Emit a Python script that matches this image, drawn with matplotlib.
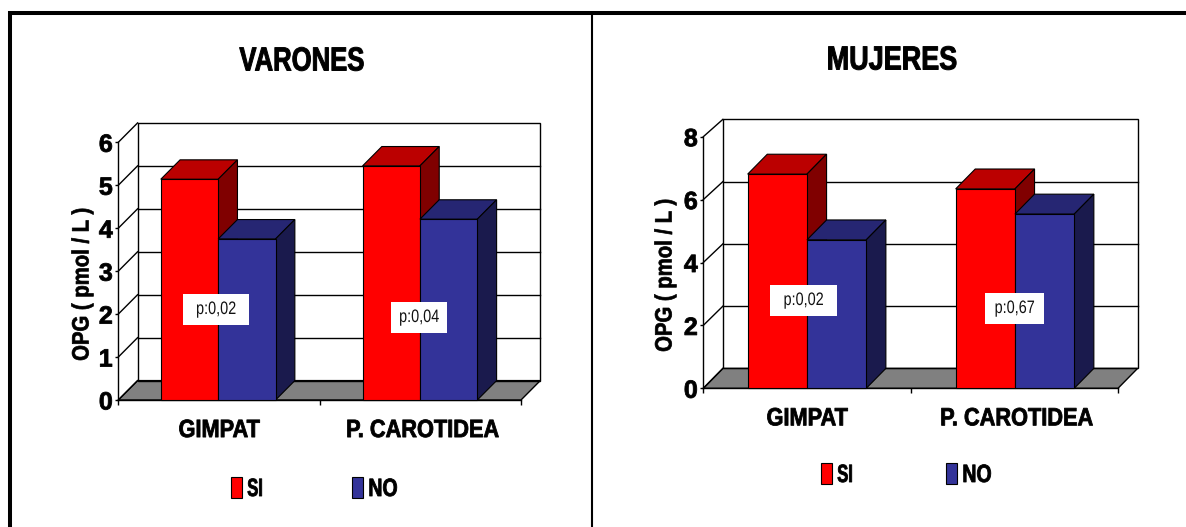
import matplotlib
matplotlib.use('Agg')
import matplotlib.pyplot as plt
from matplotlib.lines import Line2D
from matplotlib.patches import Polygon, Rectangle
from matplotlib.patheffects import AbstractPathEffect
from matplotlib.transforms import Affine2D

plt.rcParams['font.family'] = ['Liberation Sans', 'DejaVu Sans']

W, H = 1186, 527

categories = ['GIMPAT', 'P. CAROTIDEA']
series_names = ['SI', 'NO']

varones_si = [5.14, 5.45]
varones_no = [3.75, 4.21]
varones_ticks = [0, 1, 2, 3, 4, 5, 6]
varones_p = ['p:0,02', 'p:0,04']

mujeres_si = [6.81, 6.34]
mujeres_no = [4.72, 5.54]
mujeres_ticks = [0, 2, 4, 6, 8]
mujeres_p = ['p:0,02', 'p:0,67']

RED = ['#ff0000', '#bb0000', '#800000']
BLUE = ['#333399', '#262673', '#1a1a4d']
FLOOR = '#808080'


class Squeeze(AbstractPathEffect):
    # the original text is much tighter than Liberation, narrow it sideways
    # and thicken it a bit with an outline
    def __init__(self, sx=1.0, anchor=0.5, stroke=0.0):
        super().__init__()
        self.sx = sx
        self.anchor = anchor
        self.stroke = stroke

    def draw_path(self, renderer, gc, tpath, affine, rgbFace=None):
        ext = tpath.get_extents()
        x0 = ext.x0 + ext.width * self.anchor
        squeeze = Affine2D().translate(-x0, 0).scale(self.sx, 1).translate(x0, 0)
        if self.stroke:
            gc0 = renderer.new_gc()
            gc0.copy_properties(gc)
            gc0.set_linewidth(self.stroke)
            gc0.set_foreground(rgbFace)
            renderer.draw_path(gc0, tpath, squeeze + affine, rgbFace)
            gc0.restore()
        else:
            renderer.draw_path(gc, tpath, squeeze + affine, rgbFace)


def fx(x):
    return x / W


def fy(y):
    return 1 - y / H


def panel(left, right, y0, ytop, depth_x, depth_y, back_scale, si, no, ticks, p_text, p_boxes,
          bar_w, centers, title, title_xy, title_sx, ylabel_xy, leg_xy, leg_gap):
    ax = fig.add_axes([fx(left), fy(y0), fx(right - left), (y0 - ytop) / H])
    ymax = ticks[-1]
    ax.set_xlim(0, 2)
    ax.set_ylim(0, ymax)
    ax.patch.set_visible(False)
    for s in ['top', 'right']:
        ax.spines[s].set_visible(False)
    for s in ['left', 'bottom']:
        ax.spines[s].set_linewidth(1.0)

    dx = depth_x / (right - left) * 2
    dy = depth_y / (y0 - ytop) * ymax

    # floor and back wall
    ax.add_patch(Polygon([(0, 0), (2, 0), (2 + dx, dy), (dx, dy)], closed=True, fc=FLOOR,
                         ec='black', lw=1.0, clip_on=False, zorder=1))
    ax.add_patch(Rectangle((dx, dy), 2, ymax * back_scale, fc='none', ec='black', lw=1.0,
                           clip_on=False, zorder=1))
    for t in ticks[1:-1]:
        ax.plot([dx, 2 + dx], [t * back_scale + dy, t * back_scale + dy], color='black', lw=1.0,
                clip_on=False, zorder=1)
    for t in ticks:
        ax.plot([0, dx], [t, t * back_scale + dy], color='black', lw=1.0, clip_on=False, zorder=1)

    z = 3
    handles = []
    for i in range(len(categories)):
        xc = centers[i]
        for j, (vals, cols) in enumerate(((si, RED), (no, BLUE))):
            x0 = xc - bar_w + j * bar_w
            x1 = x0 + bar_w
            v = vals[i]
            ax.add_patch(Polygon([(x0, v), (x1, v), (x1 + dx, v + dy), (x0 + dx, v + dy)],
                                 closed=True, fc=cols[1], ec='black', lw=0.8, clip_on=False, zorder=z))
            ax.add_patch(Polygon([(x1, 0), (x1 + dx, dy), (x1 + dx, v + dy), (x1, v)],
                                 closed=True, fc=cols[2], ec='black', lw=0.8, clip_on=False, zorder=z))
            b = ax.bar(x0, v, bar_w, align='edge', color=cols[0], edgecolor='black', lw=0.8,
                       clip_on=False, zorder=z + 1, label=series_names[j])
            if i == 0:
                handles.append(b)
            z += 2

    # p value boxes, given in pixels of the picture
    for txt, (bx0, bx1, by0, by1) in zip(p_text, p_boxes):
        fig.add_artist(Rectangle((fx(bx0), fy(by1)), (bx1 - bx0) / W, (by1 - by0) / H, fc='white',
                                 ec='none', transform=fig.transFigure, zorder=5))
        t = fig.text(fx((bx0 + bx1) / 2), fy((by0 + by1) / 2), txt, fontsize=13, ha='center',
                     va='center', color='#111111', zorder=6)
        t.set_path_effects([Squeeze(0.8)])

    ax.set_xticks([0, 1, 2])
    ax.set_xticklabels([])
    ax.set_xticks([0.5, 1.51], minor=True)
    ax.set_xticklabels(categories, minor=True, fontsize=18, fontweight='bold')
    ax.tick_params(axis='x', which='major', length=3.5, width=1.0)
    ax.tick_params(axis='x', which='minor', length=0, pad=13)
    for lab in ax.get_xticklabels(minor=True):
        lab.set_path_effects([Squeeze(0.87, stroke=0.6)])
    ax.set_yticks(ticks)
    ax.set_yticklabels([str(t) for t in ticks], fontsize=18, fontweight='bold')
    ax.tick_params(axis='y', length=2.5, width=1.0, pad=1.5)
    for lab in ax.get_yticklabels():
        lab.set_path_effects([Squeeze(1.0, stroke=0.6)])

    t = fig.text(fx(title_xy[0]), fy(title_xy[1]), title, fontsize=24, fontweight='bold',
                 ha='center', va='center')
    t.set_path_effects([Squeeze(title_sx, stroke=0.7)])
    t = fig.text(fx(ylabel_xy[0]), fy(ylabel_xy[1]), 'OPG ( pmol / L )', fontsize=17, fontweight='bold',
                 rotation=90, ha='center', va='center')
    t.set_path_effects([Squeeze(0.86, stroke=0.5)])

    leg = fig.legend(handles=handles, labels=series_names, loc='center left',
                     bbox_to_anchor=(fx(leg_xy[0]), fy(leg_xy[1])), ncol=2, frameon=False,
                     prop={'size': 18, 'weight': 'bold'}, handlelength=0.44, handleheight=0.9,
                     handletextpad=0.2, columnspacing=leg_gap, borderaxespad=0, borderpad=0)
    for lt, sx in zip(leg.get_texts(), [0.66, 0.78]):
        lt.set_path_effects([Squeeze(sx, anchor=0, stroke=0.6)])
    return ax


fig = plt.figure(figsize=(W / 100, H / 100), dpi=100, facecolor='white')

panel(118.3, 521, 400, 142.3, 19.3, 19.4, 1.0, varones_si, varones_no, varones_ticks, varones_p,
      [(183, 249, 294, 325), (391, 447, 302, 333)], 0.285, [0.496, 1.498],
      'VARONES', (302, 62), 0.77, (82, 284), (231, 489), 3.26)
panel(703.3, 1118, 388.3, 136.7, 19.6, 19.9, 0.99, mujeres_si, mujeres_no, mujeres_ticks, mujeres_p,
      [(770, 837, 285, 316), (985, 1044, 293, 324)], 0.286, [0.5, 1.503],
      'MUJERES', (892, 61), 0.81, (665, 275), (821, 475), 3.42)

# outer frame of the slide
fig.add_artist(Line2D([fx(10), fx(10), 1], [0, fy(13), fy(13)], color='black', lw=2.9,
                      transform=fig.transFigure, solid_joinstyle='miter'))
fig.add_artist(Line2D([fx(592), fx(592)], [0, fy(13)], color='black', lw=1.5,
                      transform=fig.transFigure))

fig.savefig('out.png', dpi=100)
